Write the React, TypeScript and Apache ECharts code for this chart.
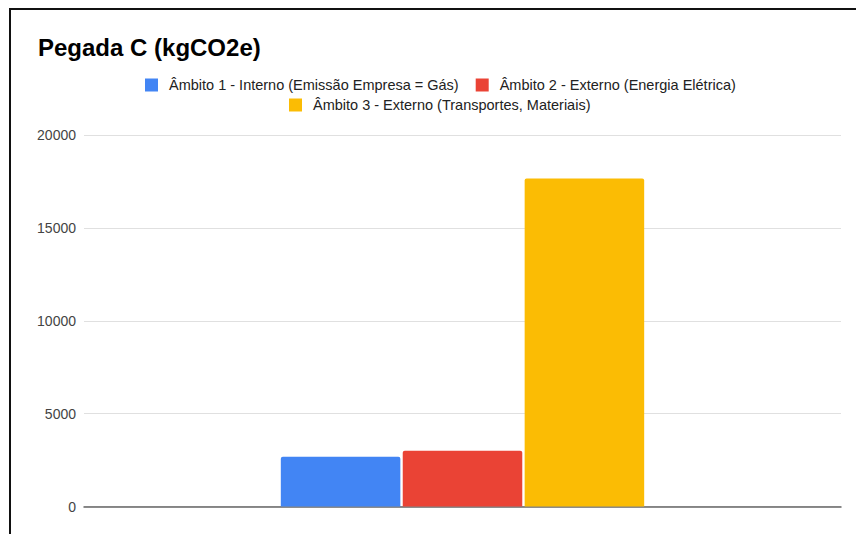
import React, { useEffect, useRef } from "react";
import * as echarts from "echarts";

const categories = [""];
const seriesNames = [
  "Âmbito 1 - Interno (Emissão Empresa = Gás)",
  "Âmbito 2 - Externo (Energia Elétrica)",
  "Âmbito 3 - Externo (Transportes, Materiais)",
];
const scope1Values = [2680];
const scope2Values = [3000];
const scope3Values = [17660];
const seriesColors = ["#4285F4", "#EA4335", "#FBBC04"];
const yTicks = [0, 5000, 10000, 15000, 20000];

const FONT = "'Liberation Sans', Arial, sans-serif";

export default function App() {
  const ref = useRef<HTMLDivElement>(null);
  useEffect(() => {
    if (!ref.current) return;
    const chart = echarts.init(ref.current, undefined, { renderer: "svg" });
    const values = [scope1Values, scope2Values, scope3Values];
    const legendText = { fontSize: 14.5, color: "#222", fontFamily: FONT, padding: [0, 0, 0, 6] };
    chart.setOption({
      animation: false,
      backgroundColor: "#ffffff",
      textStyle: { fontFamily: FONT },
      title: {
        text: "Pegada C (kgCO2e)",
        left: 38,
        top: 35,
        padding: 0,
        textStyle: { fontSize: 24, fontWeight: "bold", color: "#000", fontFamily: FONT },
      },
      legend: [
        {
          data: [seriesNames[0], seriesNames[1]],
          left: 145,
          top: 77.5,
          padding: 0,
          itemWidth: 13,
          itemHeight: 13,
          itemGap: 17,
          icon: "rect",
          selectedMode: false,
          textStyle: legendText,
        },
        {
          data: [seriesNames[2]],
          left: 289,
          top: 97.5,
          padding: 0,
          itemWidth: 13,
          itemHeight: 13,
          icon: "rect",
          selectedMode: false,
          textStyle: legendText,
        },
      ],
      grid: { left: 84, right: 15, top: 135, bottom: 27.5, containLabel: false },
      xAxis: {
        type: "category",
        data: categories,
        axisTick: { show: false },
        axisLabel: { show: false },
        axisLine: { lineStyle: { color: "#666", width: 1.5 } },
      },
      yAxis: {
        type: "value",
        min: yTicks[0],
        max: yTicks[yTicks.length - 1],
        interval: 5000,
        axisLine: { show: false },
        axisTick: { show: false },
        axisLabel: {
          fontSize: 14,
          color: "#444",
          margin: 8,
          fontFamily: FONT,
          formatter: (v: number) => String(v),
        },
        splitLine: { lineStyle: { color: "#e0e0e0", width: 1 } },
      },
      series: seriesNames.map((name, i) => ({
        name,
        type: "bar",
        data: values[i],
        barGap: "2%",
        barCategoryGap: "52%",
        itemStyle: { color: seriesColors[i], borderRadius: [2, 2, 0, 0] },
      })),
      graphic: [
        { type: "rect", shape: { x: 9, y: 8, width: 2, height: 526 }, style: { fill: "#111" } },
        { type: "rect", shape: { x: 9, y: 8, width: 847, height: 2 }, style: { fill: "#111" } },
      ],
    });
    return () => chart.dispose();
  }, []);
  return (
    <div
      ref={ref}
      style={{ position: "absolute", left: 0, top: 0, width: 856, height: 534 }}
    />
  );
}
